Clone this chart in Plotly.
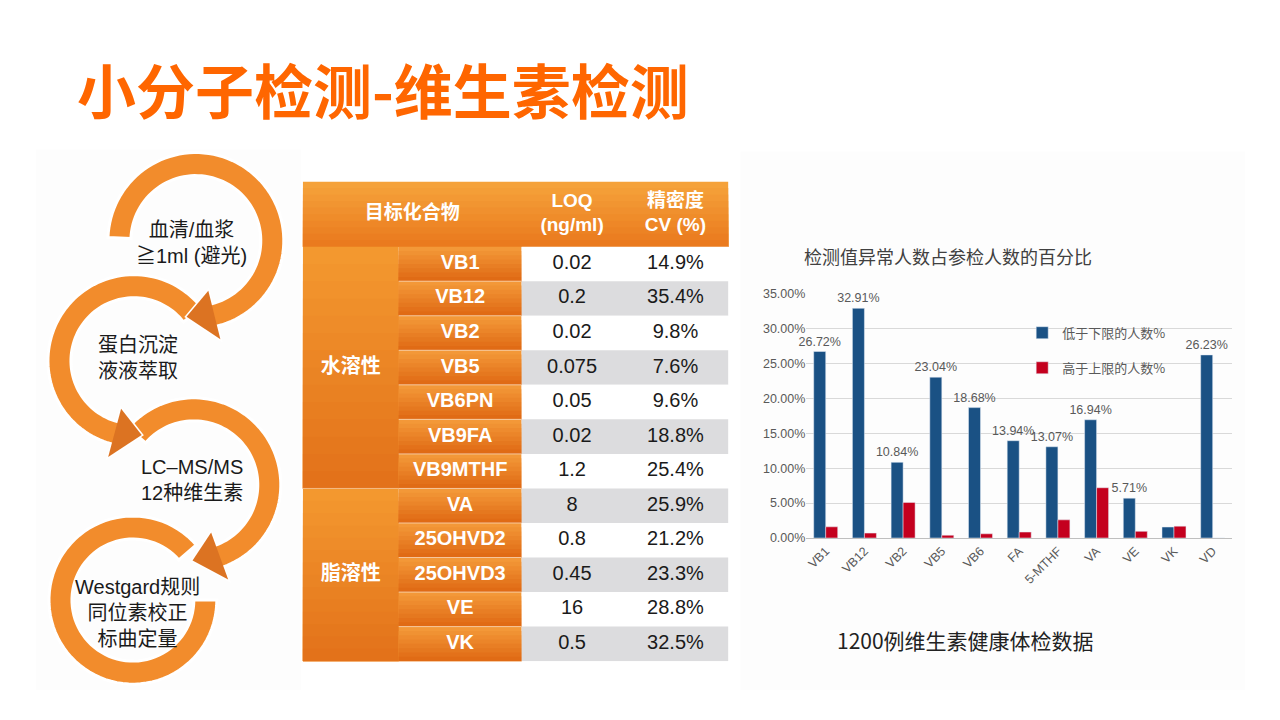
import numpy as np
import plotly.graph_objects as go

W, H = 1280, 720
# where the figure lands on the page (measured from earlier renders)
OFFX, OFFY, SY = 8, 15.6, 0.979

# bar chart data
vitamins = ["VB1", "VB12", "VB2", "VB5", "VB6", "FA", "5-MTHF", "VA", "VE", "VK", "VD"]
below_pct = [26.72, 32.91, 10.84, 23.04, 18.68, 13.94, 13.07, 16.94, 5.71, 1.57, 26.23]
above_pct = [1.6, 0.7, 5.1, 0.4, 0.6, 0.85, 2.6, 7.2, 0.95, 1.7, 0.0]
unlabeled = ["VK"]
y_ticks = [0, 5, 10, 15, 20, 25, 30, 35]

# table data
groups = ["水溶性", "脂溶性"]
group_sizes = [7, 5]
compounds = ["VB1", "VB12", "VB2", "VB5", "VB6PN", "VB9FA", "VB9MTHF",
             "VA", "25OHVD2", "25OHVD3", "VE", "VK"]
loq = ["0.02", "0.2", "0.02", "0.075", "0.05", "0.02", "1.2", "8", "0.8", "0.45", "16", "0.5"]
cv = ["14.9%", "35.4%", "9.8%", "7.6%", "9.6%", "18.8%", "25.4%",
      "25.9%", "21.2%", "23.3%", "28.8%", "32.5%"]
header = ["目标化合物", "LOQ<br>(ng/ml)", "精密度<br>CV (%)"]

# workflow steps
steps = ["血清/血浆<br>≧1ml (避光)", "蛋白沉淀<br>液液萃取", "LC–MS/MS<br>12种维生素",
         "Westgard规则<br>同位素校正<br>标曲定量"]

CJK = "Noto Sans CJK SC"
LAT = "Liberation Sans, Noto Sans CJK SC"

FW, FH = W - 2 * OFFX, 704


def px(x):
    return (x - OFFX) / FW


def py(y):
    return 1 - (y - OFFY) / SY / FH


def poly(xs, ys):
    pts = [f"{px(x):.5f},{py(y):.5f}" for x, y in zip(xs, ys)]
    return "M " + " L ".join(pts) + " Z"


def arc(cx, cy, r, a0, a1, n=80):
    t = np.radians(np.linspace(a0, a1, n))
    return list(cx + r * np.cos(t)), list(cy - r * np.sin(t))


def mix(c0, c1, f):
    a = [int(c0[i:i + 2], 16) for i in (1, 3, 5)]
    b = [int(c1[i:i + 2], 16) for i in (1, 3, 5)]
    return "#" + "".join(f"{round(a[k] + (b[k] - a[k]) * f):02x}" for k in range(3))


shapes = []

# faint panels behind the left flow and the chart
shapes.append(dict(type="rect", xref="paper", yref="paper", x0=px(35), x1=px(300), y0=py(690), y1=py(150),
                   fillcolor="#FDFDFD", line_width=0, layer="below"))
shapes.append(dict(type="rect", xref="paper", yref="paper", x0=px(740), x1=px(1245), y0=py(690), y1=py(152),
                   fillcolor="#FDFDFD", line_width=0, layer="below"))

####### circular arrows #######
# (cx, cy, r_out, r_in, start angle, end angle, arrowhead)
arcs = [
    (195, 241, 88, 65, 178, -76, True),
    (133, 361, 86, 63, 38, 255, True),
    (193, 485, 87, 64, 139, -70, True),
    (132, 600, 84, 61, 41, 360, False),
]
for cx, cy, ro, ri, a0, a1, head in reversed(arcs):
    d = 1 if a1 > a0 else -1
    rm = (ro + ri) / 2
    ox, oy = arc(cx, cy, ro, a0, a1)
    ix, iy = arc(cx, cy, ri, a1, a0)
    if head:
        t1 = np.radians(a1)
        t2 = np.radians(a1 + d * 21)
        hx = [cx + (rm + 25) * np.cos(t1), cx + rm * np.cos(t2), cx + (rm - 25) * np.cos(t1)]
        hy = [cy - (rm + 25) * np.sin(t1), cy - rm * np.sin(t2), cy - (rm - 25) * np.sin(t1)]
        xs, ys = ox + hx + ix, oy + hy + iy
    else:
        xs, ys = ox + ix, oy + iy
    shapes.append(dict(type="path", xref="paper", yref="paper", path=poly(xs, ys),
                       fillcolor="#F28C2C", line=dict(color="white", width=3)))
    if head:
        shapes.append(dict(type="path", xref="paper", yref="paper", path=poly(hx, hy),
                           fillcolor="#DC7322", line_width=0))

####### table #######
col_edges = [0, 96, 219, 320, 426]
head_h = 65 / 34.5
n_rows = len(compounds)


def grad_rect(x0, x1, y0, y1, c0, c1, n):
    # each strip runs to the bottom of the cell, so no seams show between strips
    for j in range(n):
        shapes.append(dict(type="rect", xref="x3", yref="y3", x0=x0, x1=x1,
                           y0=y0 + (y1 - y0) * j / n, y1=y1, layer="below",
                           fillcolor=mix(c0, c1, j / (n - 1)), line_width=0))


grad_rect(0, col_edges[4], -head_h, 0, "#F5A23A", "#EA7A1E", 10)
start = 0
for size in group_sizes:
    grad_rect(0, col_edges[1], start, start + size, "#F3982F", "#E3721A", 14)
    start += size
for i in range(n_rows):
    grad_rect(col_edges[1], col_edges[2], i, i + 1, "#F39838", "#E06B15", 8)
    shapes.append(dict(type="rect", xref="x3", yref="y3", x0=col_edges[2], x1=col_edges[4], y0=i, y1=i + 1,
                       fillcolor="#FFFFFF" if i % 2 == 0 else "#DCDCDE", line_width=0, layer="below"))
    if i > 0:
        shapes.append(dict(type="line", xref="x3", yref="y3", x0=col_edges[1], x1=col_edges[2], y0=i, y1=i,
                           line=dict(color="rgba(255,255,255,0.55)", width=1), layer="below"))
shapes.append(dict(type="line", xref="x3", yref="y3", x0=0, x1=col_edges[1], y0=group_sizes[0], y1=group_sizes[0],
                   line=dict(color="rgba(255,255,255,0.45)", width=1), layer="below"))

fig = go.Figure()

name_x = (col_edges[1] + col_edges[2]) / 2
loq_x = (col_edges[2] + col_edges[3]) / 2
cv_x = (col_edges[3] + col_edges[4]) / 2
rows_y = [i + 0.5 for i in range(n_rows)]
group_y = []
start = 0
for size in group_sizes:
    group_y.append(start + size / 2)
    start += size

fig.add_trace(go.Scatter(x=[col_edges[2] / 2, loq_x, cv_x], y=[-head_h / 2] * 3, text=header, mode="text",
                         textfont=dict(family=LAT, size=19, color="white", weight="bold"),
                         xaxis="x3", yaxis="y3", showlegend=False, hoverinfo="skip", cliponaxis=False))
fig.add_trace(go.Scatter(x=[col_edges[1] / 2] * len(groups), y=group_y, text=groups, mode="text",
                         textfont=dict(family=CJK, size=20, color="white", weight="bold"),
                         xaxis="x3", yaxis="y3", showlegend=False, hoverinfo="skip", cliponaxis=False))
fig.add_trace(go.Scatter(x=[name_x] * n_rows, y=rows_y, text=compounds, mode="text",
                         textfont=dict(family=LAT, size=20, color="white", weight="bold"),
                         xaxis="x3", yaxis="y3", showlegend=False, hoverinfo="skip", cliponaxis=False))
fig.add_trace(go.Scatter(x=[loq_x] * n_rows, y=rows_y, text=loq, mode="text",
                         textfont=dict(family=LAT, size=20, color="#1A1A1A"),
                         xaxis="x3", yaxis="y3", showlegend=False, hoverinfo="skip", cliponaxis=False))
fig.add_trace(go.Scatter(x=[cv_x] * n_rows, y=rows_y, text=cv, mode="text",
                         textfont=dict(family=LAT, size=20, color="#1A1A1A"),
                         xaxis="x3", yaxis="y3", showlegend=False, hoverinfo="skip", cliponaxis=False))

####### bar chart #######
fig.add_trace(go.Bar(x=vitamins, y=below_pct, name="低于下限的人数%", marker_color="#1A5184",
                     text=["" if v in unlabeled else f"{p:.2f}%" for v, p in zip(vitamins, below_pct)],
                     textposition="outside", constraintext="none", cliponaxis=False,
                     textfont=dict(family=LAT, size=12.5, color="#595959"), legend="legend"))
fig.add_trace(go.Bar(x=vitamins, y=above_pct, name="高于上限的人数%", marker_color="#C4001E",
                     legend="legend2"))

annotations = [
    dict(text="小分子检测-维生素检测", x=px(74), y=py(89), xref="paper", yref="paper", xanchor="left",
         yanchor="middle", showarrow=False, font=dict(family=CJK, size=59, color="#FF6600", weight="bold")),
    dict(text="检测值异常人数占参检人数的百分比", x=px(948), y=py(256), xref="paper", yref="paper",
         xanchor="center", yanchor="middle", showarrow=False, font=dict(family=CJK, size=18, color="#404040")),
    dict(text="1200例维生素健康体检数据", x=px(965), y=py(640), xref="paper", yref="paper",
         xanchor="center", yanchor="middle", showarrow=False, font=dict(family=CJK, size=21, color="#222222")),
]
for (cx, cy, ro, ri, a0, a1, head), label, dx, dy in zip(arcs, steps, [-4, 4, -2, 5], [2, -3, -5, 13]):
    annotations.append(dict(text=label, x=px(cx + dx), y=py(cy + dy), xref="paper", yref="paper",
                            xanchor="center", yanchor="middle", showarrow=False,
                            font=dict(family=LAT, size=20, color="#1A1A1A")))

fig.update_layout(
    width=FW, height=FH, margin=dict(l=0, r=0, t=0, b=0),
    paper_bgcolor="white", plot_bgcolor="rgba(0,0,0,0)",
    barmode="group", bargap=0.38, bargroupgap=0,
    xaxis=dict(domain=[px(806), px(1232)], tickangle=-45, showline=True, linecolor="#BFBFBF",
               tickfont=dict(family=LAT, size=12.5, color="#595959"), ticks=""),
    yaxis=dict(domain=[py(538), py(294)], range=[0, 35], tickmode="array", tickvals=y_ticks,
               ticktext=[f"{t:.2f}%" for t in y_ticks], showgrid=True, gridcolor="#D9D9D9", zeroline=False,
               tickfont=dict(family=LAT, size=12.5, color="#595959")),
    xaxis3=dict(domain=[px(302), px(728)], range=[0, col_edges[4]], anchor="y3", visible=False),
    yaxis3=dict(domain=[py(661), py(182)], range=[n_rows, -head_h], anchor="x3", visible=False),
    legend=dict(x=px(1022), y=py(333), xanchor="left", yanchor="middle", bgcolor="rgba(0,0,0,0)",
                font=dict(family=CJK, size=13, color="#595959")),
    legend2=dict(x=px(1022), y=py(368), xanchor="left", yanchor="middle", bgcolor="rgba(0,0,0,0)",
                 font=dict(family=CJK, size=13, color="#595959")),
    shapes=shapes, annotations=annotations,
)

fig.write_html("out.html")
